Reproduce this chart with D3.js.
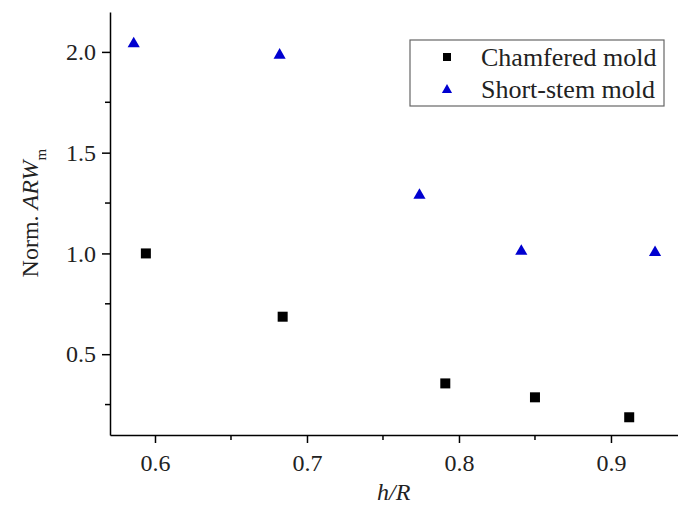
<!DOCTYPE html>
<html>
<head>
<meta charset="utf-8">
<script src="https://cdn.jsdelivr.net/npm/d3@7"></script>
<style>
  body { margin: 0; background: #fff; }
  .axis path, .axis line { stroke: #000; stroke-width: 1.5; }
</style>
</head>
<body>
<svg width="678" height="505"></svg>
<script>
const width = 678, height = 505;
const serif = "'Liberation Serif', 'Times New Roman', serif";
const svg = d3.select("svg").attr("font-family", serif);

// Data
const chamferedX = [0.594, 0.684, 0.791, 0.850, 0.912];
const chamferedY = [1.00, 0.686, 0.355, 0.286, 0.187];
const shortStemX = [0.586, 0.682, 0.774, 0.841, 0.929];
const shortStemY = [2.04, 1.984, 1.289, 1.011, 1.005];
const xTicks = [0.6, 0.7, 0.8, 0.9];
const xMinor = [0.65, 0.75, 0.85];
const yTicks = [0.5, 1.0, 1.5, 2.0];
const yMinor = [0.25, 0.75, 1.25, 1.75];
const seriesNames = ["Chamfered mold", "Short-stem mold"];

const margin = { left: 110, right: 0, top: 12, bottom: 70 };

const x = d3.scaleLinear().domain([0.5704, 0.9441]).range([margin.left, width - margin.right]);
const y = d3.scaleLinear().domain([0.099, 2.198]).range([height - margin.bottom, margin.top]);

// Axes
const gx = svg.append("g").attr("class", "axis")
  .attr("transform", `translate(0,${height - margin.bottom})`)
  .call(d3.axisBottom(x).tickValues(xTicks).tickFormat(d3.format(".1f")).tickSize(8).tickSizeOuter(0).tickPadding(11))
  .attr("font-family", serif).attr("font-size", 24);
gx.selectAll("text").attr("fill", "#222");
gx.selectAll(".minor").data(xMinor).enter().append("line")
  .attr("class", "minor")
  .attr("x1", d => x(d)).attr("x2", d => x(d))
  .attr("y1", 0).attr("y2", 5);

const gy = svg.append("g").attr("class", "axis")
  .attr("transform", `translate(${margin.left},0)`)
  .call(d3.axisLeft(y).tickValues(yTicks).tickFormat(d3.format(".1f")).tickSize(8).tickSizeOuter(0).tickPadding(6))
  .attr("font-family", serif).attr("font-size", 24);
gy.selectAll("text").attr("fill", "#222");
gy.selectAll(".minor").data(yMinor).enter().append("line")
  .attr("class", "minor")
  .attr("x1", 0).attr("x2", -5)
  .attr("y1", d => y(d)).attr("y2", d => y(d));

// Axis titles
svg.append("text")
  .attr("x", x(0.7571)).attr("y", 500)
  .attr("text-anchor", "middle")
  .attr("font-size", 24).attr("font-style", "italic").attr("fill", "#222")
  .text("h/R");

const yt = svg.append("text")
  .attr("transform", `translate(38,${y(1.2)}) rotate(-90)`)
  .attr("text-anchor", "middle")
  .attr("font-size", 24).attr("fill", "#222");
yt.append("tspan").text("Norm. ");
yt.append("tspan").attr("font-style", "italic").text("ARW");
yt.append("tspan").attr("dy", 8).attr("font-size", 15).text("m");

// Marks
const sq = 10;
const triangle = d3.symbol().type(d3.symbolTriangle).size(64);

svg.append("g").selectAll("rect")
  .data(chamferedX.map((d, i) => [d, chamferedY[i]]))
  .enter().append("rect")
  .attr("x", d => x(d[0]) - sq / 2).attr("y", d => y(d[1]) - sq / 2)
  .attr("width", sq).attr("height", sq)
  .attr("fill", "#000");

svg.append("g").selectAll("path")
  .data(shortStemX.map((d, i) => [d, shortStemY[i]]))
  .enter().append("path")
  .attr("d", triangle)
  .attr("transform", d => `translate(${x(d[0])},${y(d[1])})`)
  .attr("fill", "#0000d0");

// Legend
const legend = svg.append("g");
legend.append("rect")
  .attr("x", 410).attr("y", 40).attr("width", 254).attr("height", 66)
  .attr("fill", "#fff").attr("stroke", "#666").attr("stroke-width", 1.2);
legend.append("rect")
  .attr("x", 443).attr("y", 53).attr("width", 8).attr("height", 8).attr("fill", "#000");
legend.append("path")
  .attr("d", d3.symbol().type(d3.symbolTriangle).size(45))
  .attr("transform", "translate(447,90)")
  .attr("fill", "#0000d0");
legend.selectAll("text.lbl").data(seriesNames).enter().append("text")
  .attr("class", "lbl")
  .attr("x", 481).attr("y", (d, i) => 66 + i * 32)
  .attr("font-size", 26).attr("fill", "#222")
  .text(d => d);
</script>
</body>
</html>
